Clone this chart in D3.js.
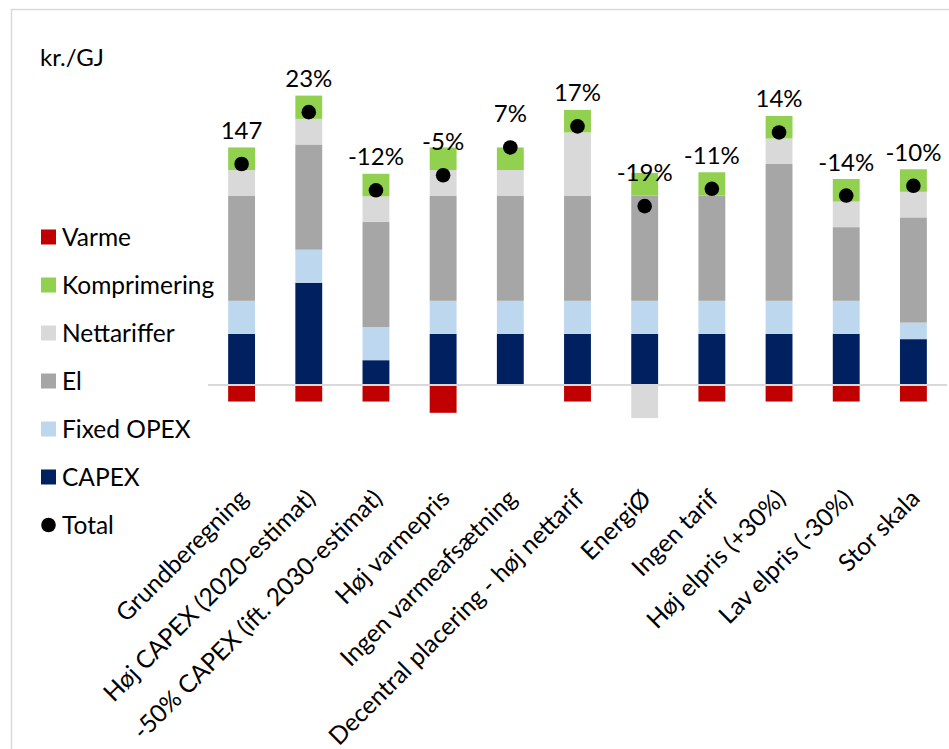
<!DOCTYPE html>
<html>
<head>
<meta charset="utf-8">
<script src="https://cdn.jsdelivr.net/npm/d3@7"></script>
<style>
  html, body { margin: 0; padding: 0; background: #fff; }
  svg { display: block; font-family: Lato, "Open Sans", sans-serif; }
</style>
</head>
<body>
<svg id="chart" width="949" height="749"></svg>
<script>
// Scenario names (x categories)
const categories = [
  "Grundberegning",
  "Høj CAPEX (2020-estimat)",
  "-50% CAPEX (ift. 2030-estimat)",
  "Høj varmepris",
  "Ingen varmeafsætning",
  "Decentral placering - høj nettarif",
  "EnergiØ",
  "Ingen tarif",
  "Høj elpris (+30%)",
  "Lav elpris (-30%)",
  "Stor skala"
];

// Cost components, kr./GJ
const capex        = [34, 68, 16.5, 34, 34, 34, 34, 34, 34, 34, 30.5];
const fixedOpex    = [22, 22, 22,   22, 22, 22, 22, 22, 22, 22, 11];
const el           = [70, 70, 70,   70, 70, 70, 70, 70, 91, 49, 70];
const nettariffer  = [17, 17, 17,   17, 17, 42, -22, 0, 17, 17, 17];
const komprimering = [15, 15.5, 15, 15, 15, 15, 15, 15.5, 15, 15, 15];
const varme        = [-11, -11, -11, -18.5, 0, -11, 0, -11, -11, -11, -11];

const series = [
  { key: "capex",        name: "CAPEX",        color: "#002060", values: capex },
  { key: "fixedOpex",    name: "Fixed OPEX",   color: "#bdd7ee", values: fixedOpex },
  { key: "el",           name: "El",           color: "#a6a6a6", values: el },
  { key: "nettariffer",  name: "Nettariffer",  color: "#d9d9d9", values: nettariffer },
  { key: "komprimering", name: "Komprimering", color: "#92d050", values: komprimering },
  { key: "varme",        name: "Varme",        color: "#c00000", values: varme }
];

const rows = categories.map((c, i) => {
  const r = { category: c };
  series.forEach(s => { r[s.key] = s.values[i]; });
  r.total = series.reduce((a, s) => a + s.values[i], 0);
  return r;
});
const baseTotal = rows[0].total;

const svg = d3.select("#chart");
const fontSize = 24;

// Outer frame
svg.append("rect")
  .attr("x", 11.5).attr("y", 9.5)
  .attr("width", 960).attr("height", 760)
  .attr("fill", "none").attr("stroke", "#d9d9d9").attr("stroke-width", 1.5);

const x = d3.scaleBand()
  .domain(categories)
  .range([208, 947])
  .paddingInner(0.6)
  .paddingOuter(0.3);

const y = d3.scaleLinear()
  .domain([0, 147])
  .range([385, 164]);

const stack = d3.stack()
  .keys(series.map(s => s.key))
  .offset(d3.stackOffsetDiverging);
const stacked = stack(rows);

const layers = svg.append("g").selectAll("g")
  .data(stacked)
  .join("g")
  .attr("fill", d => series.find(s => s.key === d.key).color);

layers.selectAll("rect")
  .data(d => d)
  .join("rect")
  .attr("x", d => x(d.data.category))
  .attr("width", x.bandwidth())
  .attr("y", d => y(Math.max(d[0], d[1])))
  .attr("height", d => Math.abs(y(d[0]) - y(d[1])));

// Zero axis line
svg.append("line")
  .attr("x1", x.range()[0]).attr("x2", x.range()[1])
  .attr("y1", y(0)).attr("y2", y(0))
  .attr("stroke", "#d9d9d9").attr("stroke-width", 2);

// Total markers
svg.append("g").selectAll("circle")
  .data(rows)
  .join("circle")
  .attr("cx", d => x(d.category) + x.bandwidth() / 2)
  .attr("cy", d => y(d.total))
  .attr("r", 7.3)
  .attr("fill", "#000");

// Total labels: first as absolute value, the rest relative to it
svg.append("g").selectAll("text")
  .data(rows)
  .join("text")
  .attr("x", d => x(d.category) + x.bandwidth() / 2)
  .attr("y", d => y(d.total) - 25)
  .attr("text-anchor", "middle")
  .attr("font-size", fontSize)
  .attr("fill", "#000")
  .text((d, i) => i === 0 ? d3.format(".0f")(d.total)
                          : Math.round((d.total / baseTotal - 1) * 100) + "%");

// Category axis labels, rotated, placed below the plot area
svg.append("g").selectAll("text")
  .data(categories)
  .join("text")
  .attr("transform", c => `translate(${x(c) + x.bandwidth() / 2 + 8},${y(0) + 115}) rotate(-45)`)
  .attr("text-anchor", "end")
  .attr("font-size", 24.5)
  .attr("fill", "#000")
  .text(c => c);

// Unit label
svg.append("text")
  .attr("x", 40).attr("y", 66)
  .attr("font-size", fontSize)
  .attr("fill", "#000")
  .text("kr./GJ");

// Legend
const legendItems = [
  { name: "Varme",        color: "#c00000", type: "rect" },
  { name: "Komprimering", color: "#92d050", type: "rect" },
  { name: "Nettariffer",  color: "#d9d9d9", type: "rect" },
  { name: "El",           color: "#a6a6a6", type: "rect" },
  { name: "Fixed OPEX",   color: "#bdd7ee", type: "rect" },
  { name: "CAPEX",        color: "#002060", type: "rect" },
  { name: "Total",        color: "#000",    type: "circle" }
];
const legend = svg.append("g").selectAll("g")
  .data(legendItems)
  .join("g")
  .attr("transform", (d, i) => `translate(41,${237 + i * 48})`);
legend.filter(d => d.type === "rect").append("rect")
  .attr("x", 0).attr("y", -7.5).attr("width", 15).attr("height", 15)
  .attr("fill", d => d.color);
legend.filter(d => d.type === "circle").append("circle")
  .attr("cx", 7.5).attr("cy", 0).attr("r", 7.3)
  .attr("fill", d => d.color);
legend.append("text")
  .attr("x", 21).attr("y", 0).attr("dy", "0.35em")
  .attr("font-size", 24.5)
  .attr("fill", "#000")
  .text(d => d.name);
</script>
</body>
</html>
